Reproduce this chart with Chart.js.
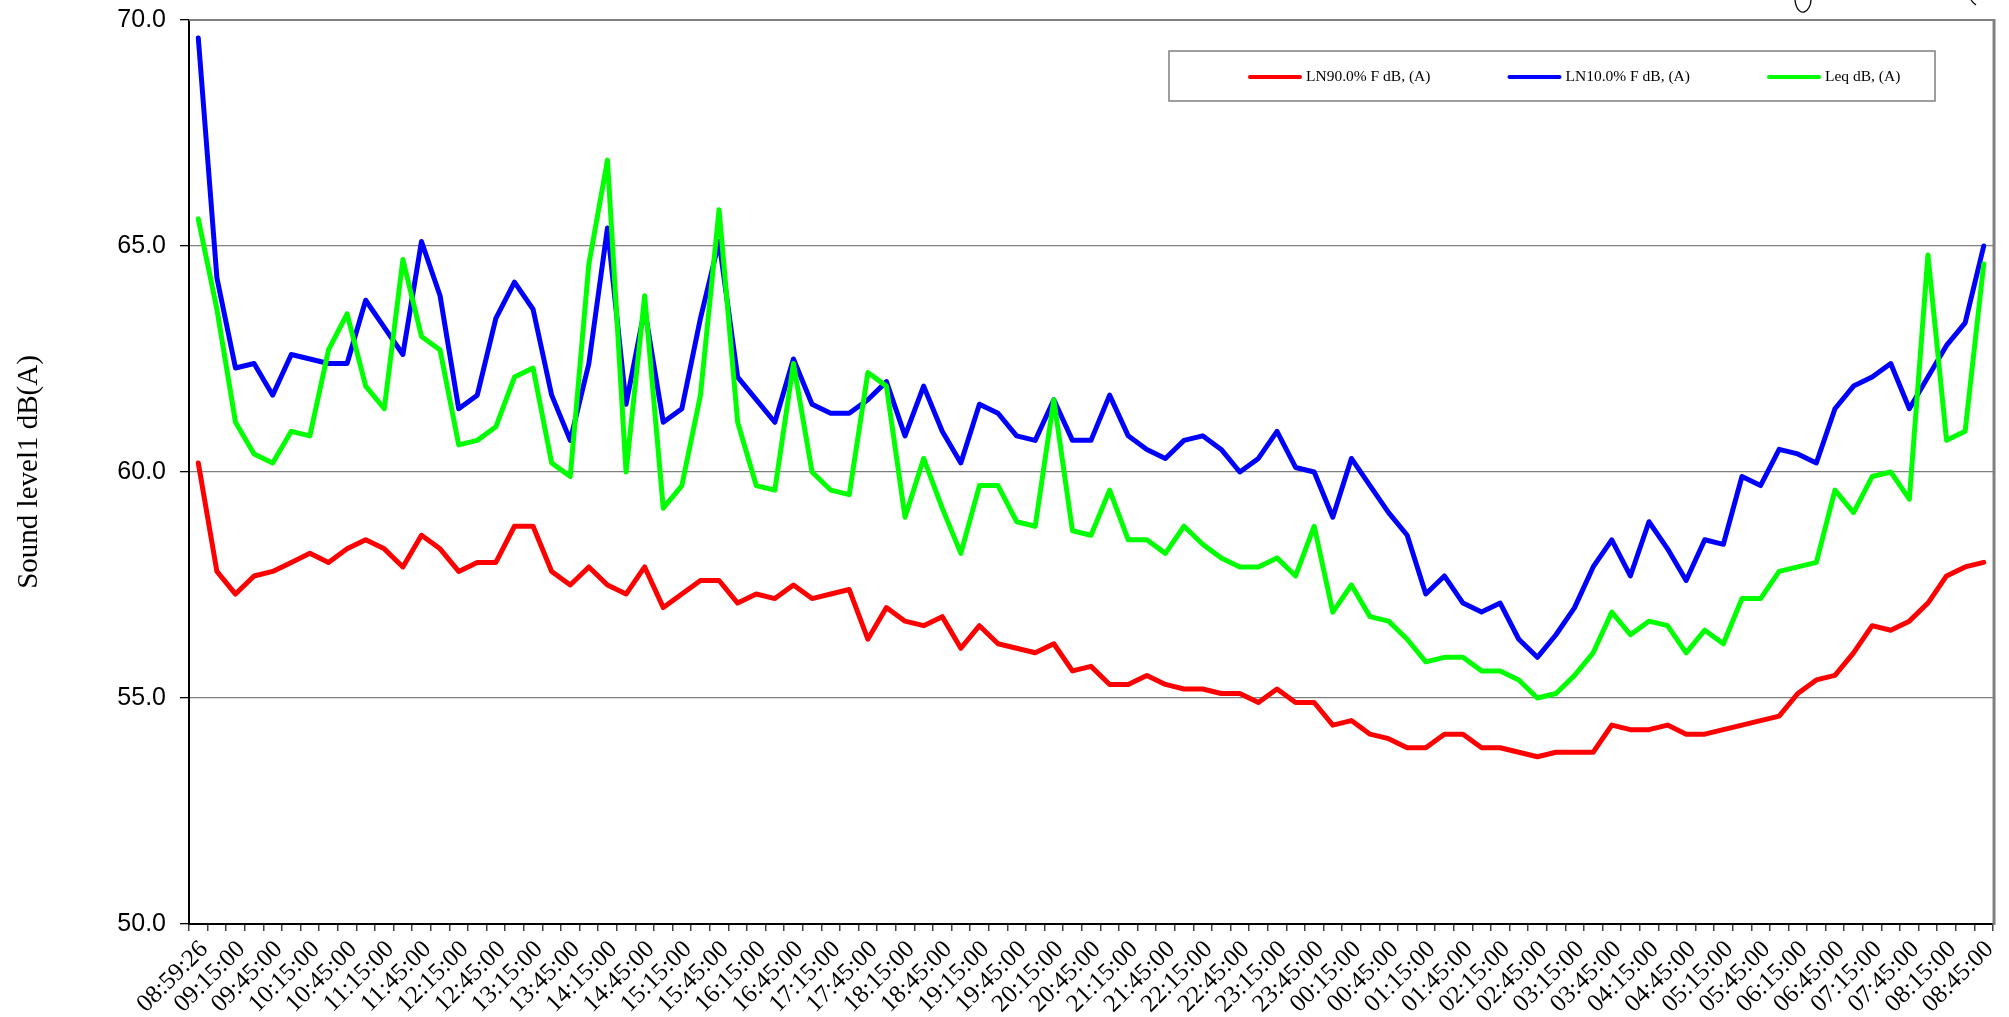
<!DOCTYPE html>
<html>
<head>
<meta charset="utf-8">
<script src="https://cdn.jsdelivr.net/npm/chart.js@4.4.1/dist/chart.umd.min.js"></script>
<style>
    body { margin: 0; background: #fff; }
    #wrap { width: 2009px; height: 1017px; }
</style>
</head>
<body>
<div id="wrap"><canvas id="chart" width="2009" height="1017"></canvas></div>
<script>
// 15 minute intervals, only every other one gets a label on the axis
const categories = [
    '08:59:26', '09:00:00', '09:15:00', '09:30:00', '09:45:00',
    '10:00:00', '10:15:00', '10:30:00', '10:45:00',
    '11:00:00', '11:15:00', '11:30:00', '11:45:00',
    '12:00:00', '12:15:00', '12:30:00', '12:45:00',
    '13:00:00', '13:15:00', '13:30:00', '13:45:00',
    '14:00:00', '14:15:00', '14:30:00', '14:45:00',
    '15:00:00', '15:15:00', '15:30:00', '15:45:00',
    '16:00:00', '16:15:00', '16:30:00', '16:45:00',
    '17:00:00', '17:15:00', '17:30:00', '17:45:00',
    '18:00:00', '18:15:00', '18:30:00', '18:45:00',
    '19:00:00', '19:15:00', '19:30:00', '19:45:00',
    '20:00:00', '20:15:00', '20:30:00', '20:45:00',
    '21:00:00', '21:15:00', '21:30:00', '21:45:00',
    '22:00:00', '22:15:00', '22:30:00', '22:45:00',
    '23:00:00', '23:15:00', '23:30:00', '23:45:00',
    '00:00:00', '00:15:00', '00:30:00', '00:45:00',
    '01:00:00', '01:15:00', '01:30:00', '01:45:00',
    '02:00:00', '02:15:00', '02:30:00', '02:45:00',
    '03:00:00', '03:15:00', '03:30:00', '03:45:00',
    '04:00:00', '04:15:00', '04:30:00', '04:45:00',
    '05:00:00', '05:15:00', '05:30:00', '05:45:00',
    '06:00:00', '06:15:00', '06:30:00', '06:45:00',
    '07:00:00', '07:15:00', '07:30:00', '07:45:00',
    '08:00:00', '08:15:00', '08:30:00', '08:45:00'
];

const ln90 = [
    60.2, 57.8, 57.3, 57.7, 57.8, 58.0, 58.2, 58.0, 58.3, 58.5, 58.3, 57.9, 58.6,
    58.3, 57.8, 58.0, 58.0, 58.8, 58.8, 57.8, 57.5, 57.9, 57.5, 57.3, 57.9,
    57.0, 57.3, 57.6, 57.6, 57.1, 57.3, 57.2, 57.5, 57.2, 57.3, 57.4, 56.3,
    57.0, 56.7, 56.6, 56.8, 56.1, 56.6, 56.2, 56.1, 56.0, 56.2, 55.6, 55.7,
    55.3, 55.3, 55.5, 55.3, 55.2, 55.2, 55.1, 55.1, 54.9, 55.2, 54.9, 54.9,
    54.4, 54.5, 54.2, 54.1, 53.9, 53.9, 54.2, 54.2, 53.9, 53.9, 53.8, 53.7,
    53.8, 53.8, 53.8, 54.4, 54.3, 54.3, 54.4, 54.2, 54.2, 54.3, 54.4, 54.5,
    54.6, 55.1, 55.4, 55.5, 56.0, 56.6, 56.5, 56.7, 57.1, 57.7, 57.9, 58.0
];

const ln10 = [
    69.6, 64.3, 62.3, 62.4, 61.7, 62.6, 62.5, 62.4, 62.4, 63.8, 63.2, 62.6, 65.1,
    63.9, 61.4, 61.7, 63.4, 64.2, 63.6, 61.7, 60.7, 62.4, 65.4, 61.5, 63.6,
    61.1, 61.4, 63.4, 65.1, 62.1, 61.6, 61.1, 62.5, 61.5, 61.3, 61.3, 61.6,
    62.0, 60.8, 61.9, 60.9, 60.2, 61.5, 61.3, 60.8, 60.7, 61.6, 60.7, 60.7,
    61.7, 60.8, 60.5, 60.3, 60.7, 60.8, 60.5, 60.0, 60.3, 60.9, 60.1, 60.0,
    59.0, 60.3, 59.7, 59.1, 58.6, 57.3, 57.7, 57.1, 56.9, 57.1, 56.3, 55.9,
    56.4, 57.0, 57.9, 58.5, 57.7, 58.9, 58.3, 57.6, 58.5, 58.4, 59.9, 59.7,
    60.5, 60.4, 60.2, 61.4, 61.9, 62.1, 62.4, 61.4, 62.1, 62.8, 63.3, 65.0
];

const leq = [
    65.6, 63.6, 61.1, 60.4, 60.2, 60.9, 60.8, 62.7, 63.5, 61.9, 61.4, 64.7, 63.0,
    62.7, 60.6, 60.7, 61.0, 62.1, 62.3, 60.2, 59.9, 64.6, 66.9, 60.0, 63.9,
    59.2, 59.7, 61.7, 65.8, 61.1, 59.7, 59.6, 62.4, 60.0, 59.6, 59.5, 62.2,
    61.9, 59.0, 60.3, 59.2, 58.2, 59.7, 59.7, 58.9, 58.8, 61.6, 58.7, 58.6,
    59.6, 58.5, 58.5, 58.2, 58.8, 58.4, 58.1, 57.9, 57.9, 58.1, 57.7, 58.8,
    56.9, 57.5, 56.8, 56.7, 56.3, 55.8, 55.9, 55.9, 55.6, 55.6, 55.4, 55.0,
    55.1, 55.5, 56.0, 56.9, 56.4, 56.7, 56.6, 56.0, 56.5, 56.2, 57.2, 57.2,
    57.8, 57.9, 58.0, 59.6, 59.1, 59.9, 60.0, 59.4, 64.8, 60.7, 60.9, 64.6
];

const seriesNames = ['LN90.0% F dB, (A)', 'LN10.0% F dB, (A)', 'Leq dB, (A)'];
const seriesColors = ['#ff0000', '#0000ff', '#00ff00'];
const yTicks = [50, 55, 60, 65, 70];

// white background, plot frame, boxed legend, and the stray pen marks at the top
const framePlugin = {
    id: 'frame',
    beforeDraw(chart) {
        const ctx = chart.ctx;
        ctx.save();
        ctx.fillStyle = '#fff';
        ctx.fillRect(0, 0, chart.width, chart.height);
        ctx.restore();
    },
    afterDraw(chart) {
        const ctx = chart.ctx;
        const a = chart.chartArea;
        ctx.save();
        ctx.strokeStyle = '#808080';
        ctx.lineWidth = 2;
        ctx.beginPath();
        ctx.moveTo(a.left, a.top);
        ctx.lineTo(a.right, a.top);
        ctx.stroke();
        ctx.lineWidth = 3;
        ctx.beginPath();
        ctx.moveTo(a.right + 1, a.top - 1);
        ctx.lineTo(a.right + 1, a.bottom + 1);
        ctx.stroke();

        // legend box
        const bx = 1169, by = 51, bw = 766, bh = 50;
        ctx.fillStyle = '#fff';
        ctx.fillRect(bx, by, bw, bh);
        ctx.strokeStyle = '#808080';
        ctx.lineWidth = 1.5;
        ctx.strokeRect(bx, by, bw, bh);
        ctx.font = '15.5px "Liberation Serif"';
        ctx.textBaseline = 'middle';
        ctx.fillStyle = '#000';
        seriesNames.forEach((name, i) => {
            const x = 1250 + i * 259.5;
            const y = 77;
            ctx.strokeStyle = seriesColors[i];
            ctx.lineWidth = 4;
            ctx.lineCap = 'round';
            ctx.beginPath();
            ctx.moveTo(x, y);
            ctx.lineTo(x + 50, y);
            ctx.stroke();
            ctx.fillText(name, x + 56, y);
        });

        ctx.strokeStyle = '#000';
        ctx.lineWidth = 1.3;
        ctx.lineCap = 'butt';
        ctx.beginPath();
        ctx.moveTo(1795, 0);
        ctx.bezierCurveTo(1796, 10, 1801, 13, 1804, 12);
        ctx.bezierCurveTo(1808, 11, 1811, 5, 1811, 0);
        ctx.stroke();
        ctx.beginPath();
        ctx.moveTo(1971, 0);
        ctx.quadraticCurveTo(1973, 3, 1976, 5);
        ctx.stroke();
        ctx.restore();
    }
};

function line(label, data, color, order) {
    return {
        label: label,
        data: data,
        borderColor: color,
        backgroundColor: color,
        borderWidth: 5,
        pointRadius: 0,
        tension: 0,
        fill: false,
        borderJoinStyle: 'round',
        borderCapStyle: 'round',
        order: order
    };
}

new Chart(document.getElementById('chart'), {
    type: 'line',
    data: {
        labels: categories,
        datasets: [
            line(seriesNames[0], ln90, seriesColors[0], 2),
            line(seriesNames[1], ln10, seriesColors[1], 1),
            line(seriesNames[2], leq, seriesColors[2], 0)
        ]
    },
    options: {
        responsive: false,
        devicePixelRatio: 1,
        animation: false,
        layout: { padding: { top: 20, right: 10, bottom: 0, left: 0 } },
        plugins: {
            legend: { display: false },
            tooltip: { enabled: false }
        },
        scales: {
            x: {
                offset: true,
                grid: { offset: true, drawOnChartArea: false, tickLength: 7, tickColor: '#404040', lineWidth: 1.5 },
                border: { color: '#000', width: 2 },
                ticks: {
                    autoSkip: false,
                    maxRotation: 45,
                    minRotation: 45,
                    padding: 4,
                    labelOffset: 6,
                    color: '#000',
                    font: { family: 'Liberation Serif', size: 25 },
                    callback: (v, i) => (i % 2 === 0 ? categories[i] : '')
                },
                afterFit: s => { s.height = 93; }
            },
            y: {
                min: yTicks[0],
                max: yTicks[yTicks.length - 1],
                afterBuildTicks: s => { s.ticks = yTicks.map(v => ({ value: v })); },
                grid: { color: '#808080', lineWidth: 1.3, tickLength: 9, tickColor: '#000' },
                border: { color: '#000', width: 2 },
                ticks: {
                    padding: 14,
                    color: '#000',
                    font: { family: 'Liberation Sans', size: 25 },
                    callback: v => Number(v).toFixed(1)
                },
                title: {
                    display: true,
                    text: 'Sound level1 dB(A)',
                    color: '#000',
                    font: { family: 'Liberation Serif', size: 29 },
                    padding: { top: 12, bottom: 0 }
                },
                afterFit: s => {
                    s.width = 189;
                    s.paddingTop = 0;
                    s.paddingBottom = 0;
                }
            }
        }
    },
    plugins: [framePlugin]
});
</script>
</body>
</html>
